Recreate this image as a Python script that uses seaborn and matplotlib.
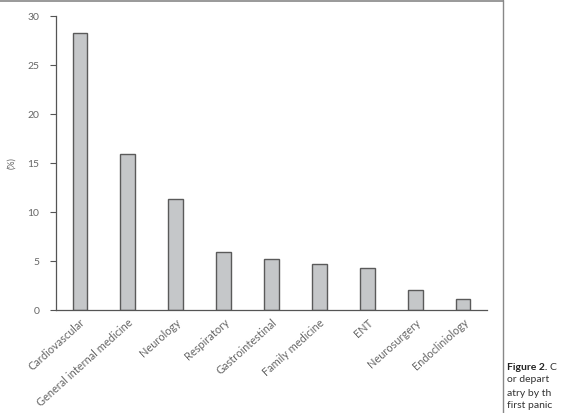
import matplotlib
matplotlib.use("Agg")
import matplotlib.pyplot as plt
import seaborn as sns
import pandas as pd
from matplotlib.lines import Line2D

categories = ["Cardiovascular", "General internal medicine", "Neurology", "Respiratory",
              "Gastrointestinal", "Family medicine", "ENT", "Neurosurgery", "Endocliniology"]
values = [28.3, 15.9, 11.3, 5.9, 5.2, 4.65, 4.3, 2.05, 1.15]
yticks = [0, 5, 10, 15, 20, 25, 30]

sns.set_style("white")
plt.rcParams['font.family'] = ['Lato', 'DejaVu Sans']

df = pd.DataFrame({"cat": categories, "val": values})

W, H = 562, 413
fig = plt.figure(figsize=(W / 100, H / 100), dpi=100)
ax = fig.add_axes([56 / W, 1 - 310 / H, (487 - 56) / W, (310 - 16.3) / H])

sns.barplot(data=df, x="cat", y="val", ax=ax, color="#c5c7c9", width=0.31,
            edgecolor="#5a5a5a", linewidth=1.0, saturation=1)

ax.set_xlim(-0.5, 8.5)
ax.set_ylim(0, 30)
ax.set_yticks(yticks)
ax.set_yticklabels([str(t) for t in yticks], fontsize=7.5, color="#666666")
ax.set_xticks(range(len(categories)))
ax.set_xticklabels(categories, rotation=42, ha="right", rotation_mode="anchor",
                   fontsize=7.9, color="#666666")
ax.tick_params(axis="y", which="both", left=True, length=4, width=0.8, color="#555555", pad=8)
ax.tick_params(axis="x", length=0, pad=5)
ax.set_xlabel("")
ax.set_ylabel("(%)", fontsize=6.5, color="#666666")
ax.yaxis.set_label_coords(-0.093, 0.5)
sns.despine(ax=ax)
for s in ("left", "bottom"):
    ax.spines[s].set_color("#555555")
    ax.spines[s].set_linewidth(0.9)

# page frame lines
fig.add_artist(Line2D([0, 502.5 / W], [1 - 0.8 / H, 1 - 0.8 / H], color="#888888", lw=1.2))
fig.add_artist(Line2D([502.5 / W, 502.5 / W], [0, 1], color="#888888", lw=1.0))

# caption fragment visible at the right edge
fig.text(507 / W, 1 - 367 / H, "Figure 2.", fontsize=7.5, fontweight="bold", color="#222222", va="center")
fig.text(549 / W, 1 - 367 / H, "C", fontsize=7.5, color="#333333", va="center")
fig.text(507 / W, 1 - 380 / H, "or depart", fontsize=7.5, color="#333333", va="center")
fig.text(507 / W, 1 - 393 / H, "atry by th", fontsize=7.5, color="#333333", va="center")
fig.text(507 / W, 1 - 406 / H, "first panic", fontsize=7.5, color="#333333", va="center")

fig.savefig("out.png", dpi=100)
